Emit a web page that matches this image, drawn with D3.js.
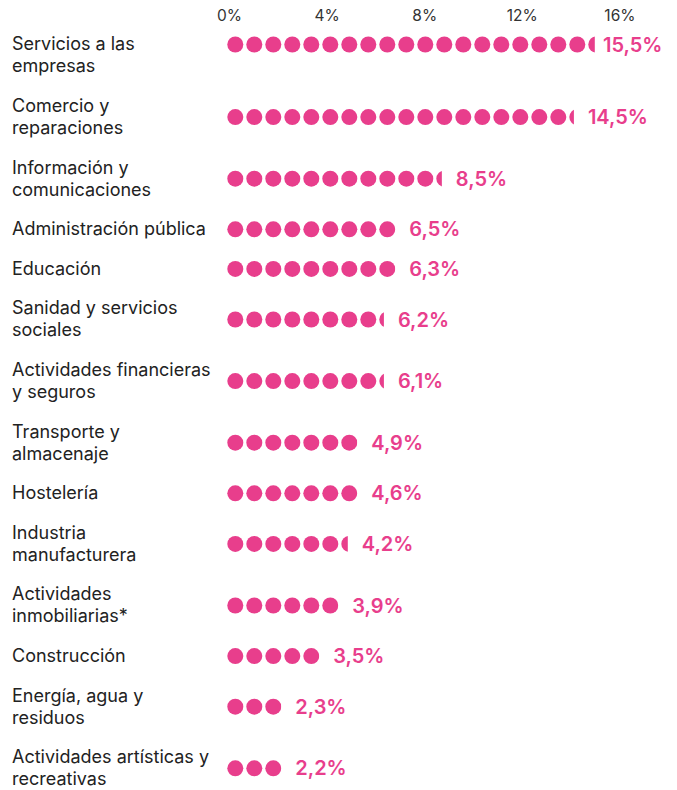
<!DOCTYPE html>
<html>
<head>
<meta charset="utf-8">
<script src="https://cdn.jsdelivr.net/npm/d3@7"></script>
<style>
  body { margin: 0; background: #fff; }
  svg { display: block; font-family: Inter, "Noto Sans", sans-serif; }
</style>
</head>
<body>
<svg id="chart" width="677" height="790"></svg>
<script>
// sectors, one entry per row (line breaks as in the original)
const categories = [
  ['Servicios a las', 'empresas'],
  ['Comercio y', 'reparaciones'],
  ['Información y', 'comunicaciones'],
  ['Administración pública'],
  ['Educación'],
  ['Sanidad y servicios', 'sociales'],
  ['Actividades financieras', 'y seguros'],
  ['Transporte y', 'almacenaje'],
  ['Hostelería'],
  ['Industria', 'manufacturera'],
  ['Actividades', 'inmobiliarias*'],
  ['Construcción'],
  ['Energía, agua y', 'residuos'],
  ['Actividades artísticas y', 'recreativas']
];
const values = [15.5, 14.5, 8.5, 6.5, 6.3, 6.2, 6.1, 4.9, 4.6, 4.2, 3.9, 3.5, 2.3, 2.2];
// length of each dot row, in dots, as drawn in the picture
const dotUnits = [19.5, 18.4, 11.45, 9, 9, 8.4, 8.4, 7, 7, 6.5, 6, 5, 3, 3];
const ticks = [0, 4, 8, 12, 16];

const W = 677;
const pink = '#e83e8c';
const lineH = 22, rowPad = 17.6;

const svg = d3.select('#chart');
const es = d3.formatLocale({decimal: ',', thousands: '.', grouping: [3], currency: ['', '€']});
const fmt = es.format('.1f');

const x = d3.scaleLinear().domain([0, 16]).range([229, 619.4]);
const dotX = d3.scaleLinear().domain([0, 1]).range([225.8, 244.8]);
const r = 8;

// row centres from the number of text lines
let y0 = 55.5 - (2 * lineH + rowPad) / 2;
const rows = categories.map((c, i) => {
  const h = c.length * lineH + rowPad;
  const cy = y0 + h / 2;
  y0 += h;
  return {lines: c, value: values[i], n: dotUnits[i], cy: cy, i: i};
});

// axis
const axis = d3.axisTop(x).tickValues(ticks).tickFormat(d => d + '%').tickSize(0).tickPadding(0);
const ax = svg.append('g').attr('transform', 'translate(0,21)').call(axis);
ax.select('.domain').remove();
ax.selectAll('text').attr('font-size', 15.5).attr('fill', '#333').attr('font-family', 'Inter, sans-serif');

const defs = svg.append('defs');
const g = svg.selectAll('.row').data(rows).enter().append('g').classed('row', true);

// first row dots sit on the first text line
const dotY = d => d.i === 0 ? d.cy - lineH / 2 : d.cy;

g.each(function (d) {
  const end = dotX(d.n) - 1.5;
  defs.append('clipPath').attr('id', 'clip' + d.i)
    .append('rect').attr('x', dotX(0)).attr('y', dotY(d) - 10)
    .attr('width', end - dotX(0)).attr('height', 20);
  d3.select(this).append('g').attr('clip-path', `url(#clip${d.i})`)
    .selectAll('circle').data(d3.range(Math.ceil(d.n))).enter().append('circle')
    .attr('cx', k => dotX(k) + 9.5)
    .attr('cy', dotY(d))
    .attr('r', r)
    .attr('fill', pink);
  d3.select(this).append('text')
    .attr('x', Math.min(end + 14, W - 74))
    .attr('y', dotY(d))
    .attr('dy', '0.35em')
    .attr('font-size', 20)
    .attr('font-weight', 600)
    .attr('fill', pink)
    .text(fmt(d.value) + '%');
});

g.append('text')
  .attr('x', 12)
  .attr('font-size', 18)
  .attr('fill', '#222')
  .selectAll('tspan').data(d => d.lines.map((t, j) => ({t: t, y: d.cy + (j - (d.lines.length - 1) / 2) * lineH})))
  .enter().append('tspan')
  .attr('x', 12)
  .attr('y', t => t.y)
  .attr('dy', '0.33em')
  .text(t => t.t);
</script>
</body>
</html>
